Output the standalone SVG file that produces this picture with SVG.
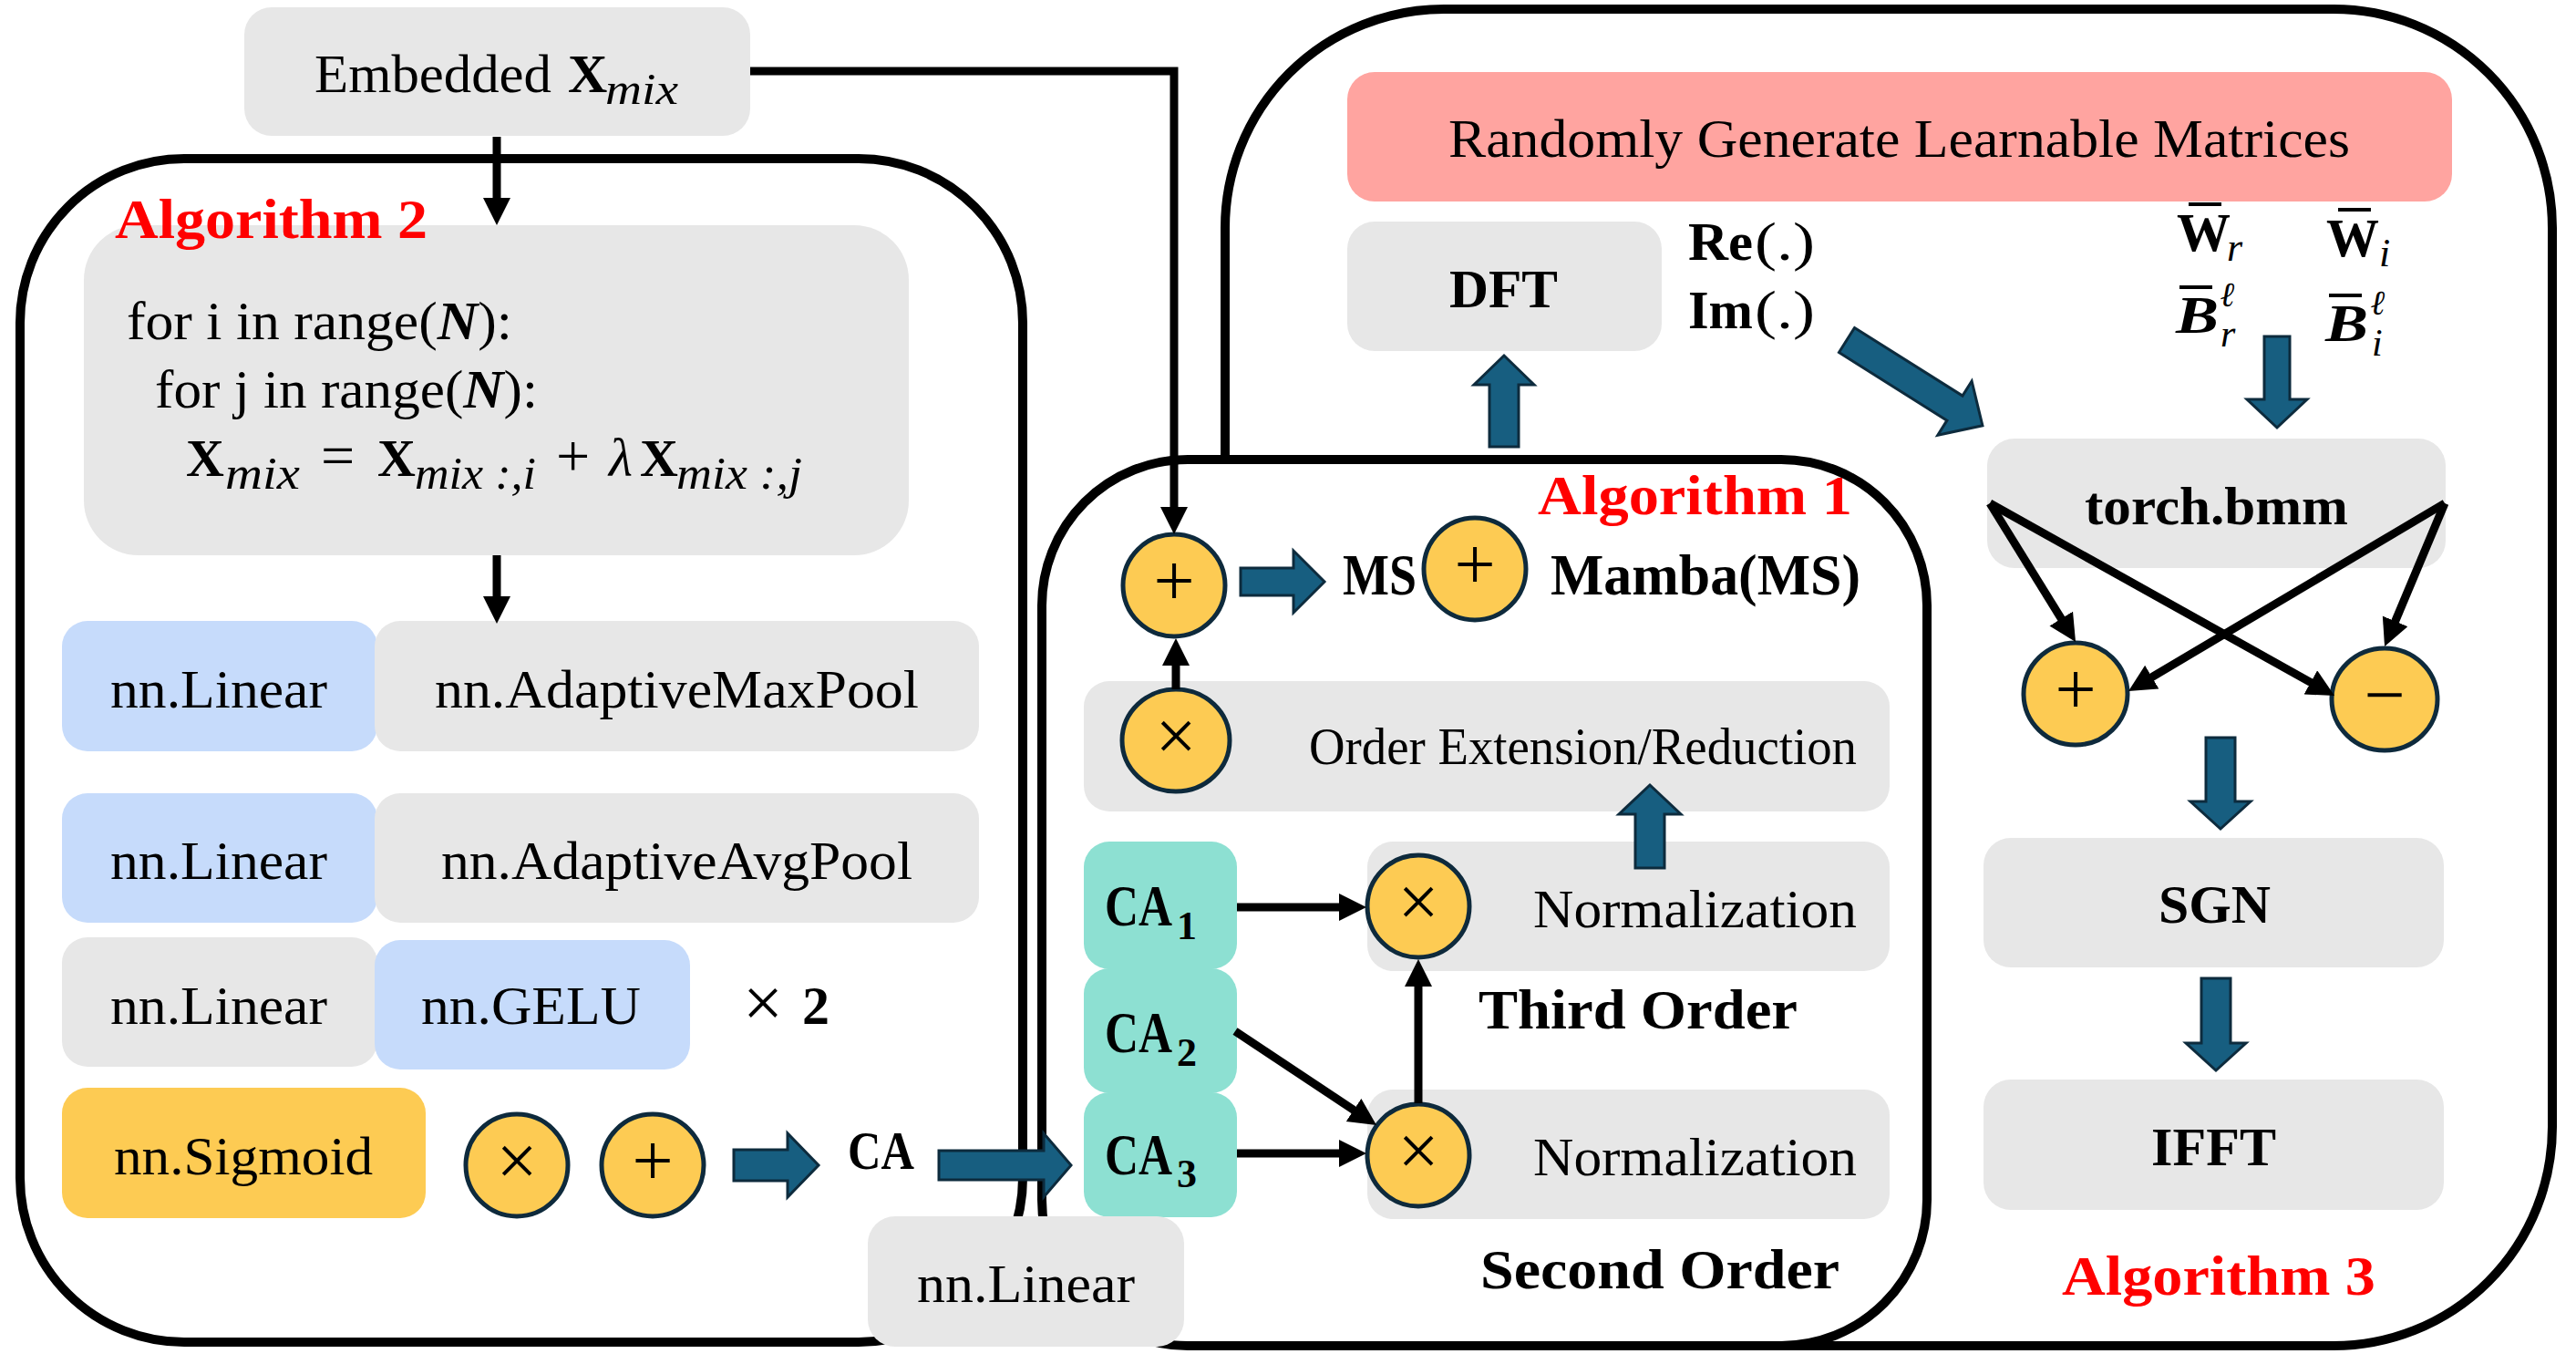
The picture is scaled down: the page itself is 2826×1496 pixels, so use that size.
<svg xmlns="http://www.w3.org/2000/svg" width="2826" height="1496" viewBox="0 0 2826 1496">
<style>
.frame{fill:#ffffff;stroke:#000000;stroke-width:10}
.gray{fill:#e7e7e7}
.blue{fill:#c6dbfb}
.yellow{fill:#fdcb53}
.teal{fill:#8de0d2}
.red{fill:#ffa4a0}
.op{fill:#fdcb53;stroke:#0e2a3c;stroke-width:5}
.barrow{fill:#175e80;stroke:#0d2b3d;stroke-width:3}
.conn{fill:none;stroke:#000000;stroke-width:9;marker-end:url(#ah)}
.bar{stroke:#000000;stroke-width:4}
text{font-family:"Liberation Serif","DejaVu Serif",serif;fill:#000000}
.r{font-size:60px}
.b{font-size:60px;font-weight:bold}
.alg{font-size:62px;font-weight:bold;fill:#ff0000}
.sym{font-size:80px;text-anchor:middle}
.it{font-style:italic}
.sub{font-size:44px}
</style>
<defs>
<marker id="ah" markerUnits="userSpaceOnUse" markerWidth="32" markerHeight="32" refX="2" refY="15" orient="auto">
<path d="M0,0 L30,15 L0,30 Z" fill="#000000"/>
</marker>
</defs>

<!-- outer frames -->
<g id="algorithm3-frame"><rect class="frame" x="1344" y="10" width="1456" height="1466" rx="240" ry="240"/></g>
<g id="algorithm2-frame"><rect class="frame" x="22" y="174" width="1100" height="1298" rx="180" ry="180"/></g>
<g id="algorithm1-frame"><rect class="frame" x="1143" y="504" width="971" height="972" rx="160" ry="160"/></g>

<!-- Embedded input -->
<g id="embedded">
<rect class="gray" x="268" y="8" width="555" height="141" rx="30"/>
<text class="r" x="345" y="101" textLength="260" lengthAdjust="spacingAndGlyphs">Embedded</text>
<text class="b" x="623" y="101">X</text>
<text class="r it" x="664" y="114" style="font-size:48px" textLength="80" lengthAdjust="spacingAndGlyphs">mix</text>
</g>

<!-- Algorithm 2 -->
<g id="mix-loop">
<rect class="gray" x="92" y="247" width="905" height="362" rx="60"/>
<text class="r" x="139" y="372" textLength="423" lengthAdjust="spacingAndGlyphs">for i in range(<tspan font-weight="bold" font-style="italic">N</tspan>):</text>
<text class="r" x="170" y="447" textLength="420" lengthAdjust="spacingAndGlyphs">for j in range(<tspan font-weight="bold" font-style="italic">N</tspan>):</text>
<text class="b" x="204" y="522" style="font-size:58px">X</text>
<text class="r it" x="247" y="536" style="font-size:50px" textLength="82" lengthAdjust="spacingAndGlyphs">mix</text>
<text class="r" x="352" y="522" style="font-size:66px">=</text>
<text class="b" x="414" y="522" style="font-size:58px">X</text>
<text class="r it" x="455" y="536" style="font-size:50px" textLength="133" lengthAdjust="spacingAndGlyphs">mix :,i</text>
<text class="r" x="610" y="522" style="font-size:66px">+</text>
<text class="r it" x="668" y="522">λ</text>
<text class="b" x="702" y="522" style="font-size:58px">X</text>
<text class="r it" x="742" y="536" style="font-size:50px" textLength="138" lengthAdjust="spacingAndGlyphs">mix :,j</text>
</g>
<g id="algorithm2-label"><text class="alg" x="126" y="261" textLength="343" lengthAdjust="spacingAndGlyphs">Algorithm 2</text></g>
<g id="linear-1"><rect class="blue" x="68" y="681" width="346" height="143" rx="28"/><text class="r" x="121" y="776" textLength="238" lengthAdjust="spacingAndGlyphs">nn.Linear</text></g>
<g id="maxpool"><rect class="gray" x="411" y="681" width="663" height="143" rx="28"/><text class="r" x="477" y="776" textLength="531" lengthAdjust="spacingAndGlyphs">nn.AdaptiveMaxPool</text></g>
<g id="linear-2"><rect class="blue" x="68" y="870" width="346" height="142" rx="28"/><text class="r" x="121" y="964" textLength="238" lengthAdjust="spacingAndGlyphs">nn.Linear</text></g>
<g id="avgpool"><rect class="gray" x="411" y="870" width="663" height="142" rx="28"/><text class="r" x="484" y="964" textLength="517" lengthAdjust="spacingAndGlyphs">nn.AdaptiveAvgPool</text></g>
<g id="linear-3"><rect class="gray" x="68" y="1028" width="346" height="142" rx="28"/><text class="r" x="121" y="1123" textLength="238" lengthAdjust="spacingAndGlyphs">nn.Linear</text></g>
<g id="gelu"><rect class="blue" x="411" y="1031" width="346" height="142" rx="28"/><text class="r" x="462" y="1123" textLength="241" lengthAdjust="spacingAndGlyphs">nn.GELU</text></g>
<g id="times-two"><text class="r" x="815" y="1126" style="font-size:78px">×</text><text class="b" x="880" y="1123">2</text></g>
<g id="sigmoid"><rect class="yellow" x="68" y="1193" width="399" height="143" rx="28"/><text class="r" x="125" y="1288" textLength="284" lengthAdjust="spacingAndGlyphs">nn.Sigmoid</text></g>
<g id="alg2-mul"><circle class="op" cx="567" cy="1278" r="56"/><text class="sym" x="567" y="1300">×</text></g>
<g id="alg2-add"><circle class="op" cx="716" cy="1278" r="56"/><text class="sym" x="716" y="1300">+</text></g>
<g id="ca-label"><text class="b" x="930" y="1282" textLength="73" lengthAdjust="spacingAndGlyphs">CA</text></g>

<!-- Algorithm 1 -->
<g id="algorithm1-label"><text class="alg" x="1687" y="564" textLength="345" lengthAdjust="spacingAndGlyphs">Algorithm 1</text></g>
<g id="alg1-add"><circle class="op" cx="1288" cy="642" r="56"/><text class="sym" x="1288" y="664">+</text></g>
<g id="ms-label"><text class="b" x="1473" y="652" style="font-size:64px" textLength="81" lengthAdjust="spacingAndGlyphs">MS</text></g>
<g id="ms-add"><circle class="op" cx="1618" cy="624" r="56"/><text class="sym" x="1618" y="646">+</text></g>
<g id="mamba-label"><text class="b" x="1701" y="652" style="font-size:64px" textLength="340" lengthAdjust="spacingAndGlyphs">Mamba(MS)</text></g>
<g id="order-ext"><rect class="gray" x="1189" y="747" width="884" height="143" rx="28"/><text class="r" x="1436" y="838" style="font-size:56px" textLength="601" lengthAdjust="spacingAndGlyphs">Order Extension/Reduction</text></g>
<g id="alg1-mul"><ellipse class="op" cx="1290" cy="812" rx="59" ry="56"/><text class="sym" x="1290" y="834">×</text></g>
<g id="ca1"><rect class="teal" x="1189" y="923" width="168" height="140" rx="28"/><text class="b" x="1212" y="1015" style="font-size:64px"><tspan textLength="74" lengthAdjust="spacingAndGlyphs">CA</tspan><tspan class="sub" dx="5" dy="15">1</tspan></text></g>
<g id="ca2"><rect class="teal" x="1189" y="1062" width="168" height="137" rx="28"/><text class="b" x="1212" y="1154" style="font-size:64px"><tspan textLength="74" lengthAdjust="spacingAndGlyphs">CA</tspan><tspan class="sub" dx="5" dy="15">2</tspan></text></g>
<g id="ca3"><rect class="teal" x="1189" y="1198" width="168" height="137" rx="28"/><text class="b" x="1212" y="1288" style="font-size:64px"><tspan textLength="74" lengthAdjust="spacingAndGlyphs">CA</tspan><tspan class="sub" dx="5" dy="14">3</tspan></text></g>
<g id="norm-third"><rect class="gray" x="1500" y="923" width="573" height="142" rx="28"/><text class="r" x="1682" y="1017" textLength="355" lengthAdjust="spacingAndGlyphs">Normalization</text></g>
<g id="third-mul"><circle class="op" cx="1556" cy="994" r="56"/><text class="sym" x="1556" y="1016">×</text></g>
<g id="third-label"><text class="b" x="1622" y="1128" style="font-size:62px" textLength="350" lengthAdjust="spacingAndGlyphs">Third Order</text></g>
<g id="norm-second"><rect class="gray" x="1500" y="1195" width="573" height="142" rx="28"/><text class="r" x="1682" y="1289" textLength="355" lengthAdjust="spacingAndGlyphs">Normalization</text></g>
<g id="second-mul"><circle class="op" cx="1556" cy="1267" r="56"/><text class="sym" x="1556" y="1289">×</text></g>
<g id="second-label"><text class="b" x="1624" y="1413" style="font-size:62px" textLength="394" lengthAdjust="spacingAndGlyphs">Second Order</text></g>

<!-- Algorithm 3 -->
<g id="random-matrices"><rect class="red" x="1478" y="79" width="1212" height="142" rx="30"/><text class="r" x="1589" y="172" textLength="989" lengthAdjust="spacingAndGlyphs">Randomly Generate Learnable Matrices</text></g>
<g id="dft"><rect class="gray" x="1478" y="243" width="345" height="142" rx="30"/><text class="b" x="1590" y="337" textLength="119" lengthAdjust="spacingAndGlyphs">DFT</text></g>
<g id="re-im">
<text class="b" x="1852" y="285" textLength="71" lengthAdjust="spacingAndGlyphs">Re</text><text class="r" x="1925" y="285" textLength="66" lengthAdjust="spacingAndGlyphs">(.)</text>
<text class="b" x="1852" y="360" textLength="71" lengthAdjust="spacingAndGlyphs">Im</text><text class="r" x="1925" y="360" textLength="66" lengthAdjust="spacingAndGlyphs">(.)</text>
</g>
<g id="weights">
<line class="bar" x1="2401" y1="224" x2="2437" y2="224"/>
<text class="b" x="2388" y="275" textLength="59" lengthAdjust="spacingAndGlyphs">W</text>
<text class="r it" x="2443" y="286" style="font-size:44px">r</text>
<line class="bar" x1="2565" y1="230" x2="2601" y2="230"/>
<text class="b" x="2552" y="281" textLength="58" lengthAdjust="spacingAndGlyphs">W</text>
<text class="r it" x="2610" y="292" style="font-size:44px">i</text>
<line class="bar" x1="2391" y1="315" x2="2427" y2="315"/>
<text class="b it" x="2387" y="365" style="font-size:56px" textLength="47" lengthAdjust="spacingAndGlyphs">B</text>
<text class="b it" x="2436" y="336" style="font-size:38px">ℓ</text>
<text class="r it" x="2436" y="380" style="font-size:42px">r</text>
<line class="bar" x1="2555" y1="324" x2="2591" y2="324"/>
<text class="b it" x="2551" y="374" style="font-size:56px" textLength="47" lengthAdjust="spacingAndGlyphs">B</text>
<text class="b it" x="2601" y="345" style="font-size:38px">ℓ</text>
<text class="r it" x="2602" y="390" style="font-size:42px">i</text>
</g>
<g id="bmm"><rect class="gray" x="2180" y="481" width="503" height="142" rx="30"/><text class="b" x="2287" y="575" textLength="289" lengthAdjust="spacingAndGlyphs">torch.bmm</text></g>
<g id="alg3-add"><ellipse class="op" cx="2277" cy="761" rx="57" ry="56"/><text class="sym" x="2277" y="783">+</text></g>
<g id="alg3-sub"><ellipse class="op" cx="2616" cy="767" rx="58" ry="56"/><text class="sym" x="2616" y="789">−</text></g>
<g id="sgn"><rect class="gray" x="2176" y="919" width="505" height="142" rx="30"/><text class="b" x="2368" y="1012" textLength="123" lengthAdjust="spacingAndGlyphs">SGN</text></g>
<g id="ifft"><rect class="gray" x="2176" y="1184" width="505" height="143" rx="30"/><text class="b" x="2360" y="1278" textLength="137" lengthAdjust="spacingAndGlyphs">IFFT</text></g>
<g id="algorithm3-label"><text class="alg" x="2262" y="1420" textLength="344" lengthAdjust="spacingAndGlyphs">Algorithm 3</text></g>

<!-- connectors -->
<g id="connectors">
<path class="conn" d="M545,150 V219"/>
<path class="conn" d="M545,609 V656"/>
<path class="conn" d="M823,78 H1288 V558"/>
<path class="conn" d="M1290,756 V728"/>
<path class="conn" d="M1357,995 H1471"/>
<path class="conn" d="M1355,1131 L1486.7,1218.5"/>
<path class="conn" d="M1357,1265 H1471"/>
<path class="conn" d="M1556,1210 V1080"/>
<path class="conn" d="M2183,552 L2262.3,680.2"/>
<path class="conn" d="M2183,552 L2536.6,749.4"/>
<path class="conn" d="M2682,552 L2359.1,743.7"/>
<path class="conn" d="M2682,552 L2626.9,683.2"/>
<path class="barrow" d="M805,1261 H864 V1243 L898,1278 L864,1313 V1295 H805 Z"/>
<path class="barrow" d="M1030,1262 H1145 V1243 L1175,1278 L1145,1313 V1294 H1030 Z"/>
<path class="barrow" d="M1361,623 H1419 V604 L1453,638 L1419,672 V653 H1361 Z"/>
<path class="barrow" d="M1794,952 V893 H1776 L1810,861 L1844,893 H1826 V952 Z"/>
<path class="barrow" d="M1634,490 V422 H1617 L1650,390 L1683,422 H1666 V490 Z"/>
<path class="barrow" transform="translate(2026,373) rotate(32.2)" d="M0,-16 H140 V-35 L176,0 L140,35 V16 H0 Z"/>
<path class="barrow" d="M2484,369 V438 H2465 L2498,469 L2531,438 H2512 V369 Z"/>
<path class="barrow" d="M2420,809 V879 H2403 L2436,909 L2469,879 H2452 V809 Z"/>
<path class="barrow" d="M2415,1073 V1144 H2398 L2431,1174 L2464,1144 H2447 V1073 Z"/>
</g>

<!-- bottom shared linear -->
<g id="linear-bottom"><rect class="gray" x="952" y="1334" width="347" height="143" rx="30"/><text class="r" x="1006" y="1428" textLength="239" lengthAdjust="spacingAndGlyphs">nn.Linear</text></g>
</svg>
